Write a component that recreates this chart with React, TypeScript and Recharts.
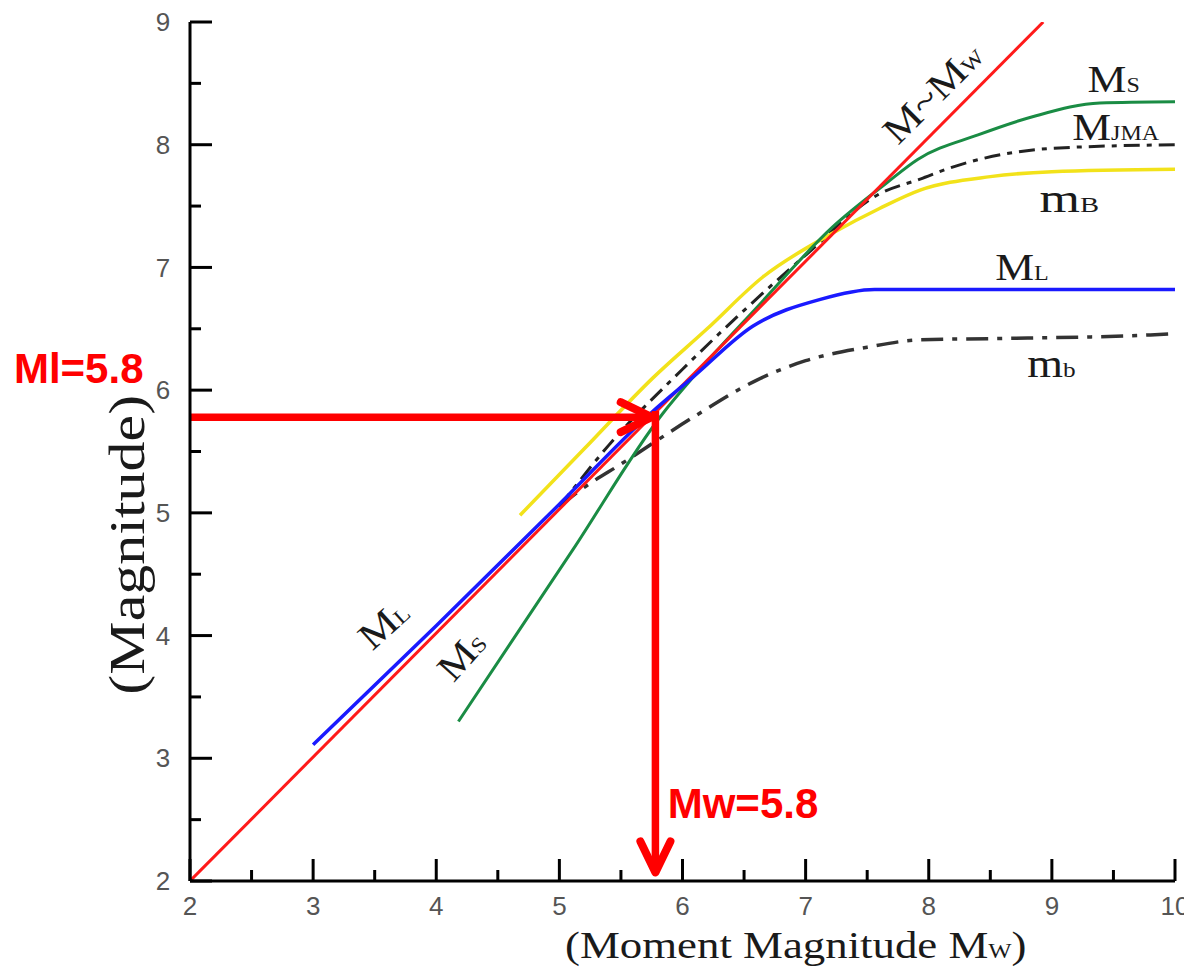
import React from 'react';
import { LineChart, Line, XAxis, YAxis, ReferenceLine, ReferenceDot } from 'recharts';

const CHART_W = 1184;
const CHART_H = 968;

// ---- ticks ----
const xTicks = [2, 2.5, 3, 3.5, 4, 4.5, 5, 5.5, 6, 6.5, 7, 7.5, 8, 8.5, 9, 9.5, 10];
const yTicks = [2, 2.5, 3, 3.5, 4, 4.5, 5, 5.5, 6, 6.5, 7, 7.5, 8, 8.5, 9];

// ---- series (x = moment magnitude Mw, y = magnitude) ----
const mwX = [2, 8.93];
const mwY = [2, 9];

const mlX = [3.0, 4.0, 5.0, 5.74, 6.09, 6.57, 7.12, 7.56, 10];
const mlY = [3.11, 4.08, 5.07, 5.81, 6.11, 6.52, 6.74, 6.82, 6.82];

const msX = [4.18, 5.11, 5.84, 6.09, 6.6, 7.22, 7.66, 7.91, 8.4, 8.85, 9.39, 10];
const msY = [3.3, 4.7, 5.81, 6.11, 6.67, 7.33, 7.69, 7.88, 8.08, 8.23, 8.34, 8.35];

const mBX = [4.68, 5.2, 5.76, 6.2, 6.65, 7.22, 7.6, 7.93, 8.5, 9.0, 10];
const mBY = [4.98, 5.52, 6.1, 6.5, 6.92, 7.28, 7.48, 7.63, 7.74, 7.78, 7.8];

const mjmaX = [5.0, 5.4, 6.0, 6.5, 7.0, 7.6, 7.93, 8.2, 9.0, 10];
const mjmaY = [5.05, 5.55, 6.17, 6.65, 7.1, 7.6, 7.72, 7.82, 7.97, 8.0];

const mbX = [5.0, 5.15, 5.52, 6.12, 6.6, 7.0, 7.5, 7.93, 8.5, 9.8, 10];
const mbY = [5.05, 5.17, 5.41, 5.8, 6.08, 6.24, 6.35, 6.41, 6.42, 6.45, 6.46];

// ---- arrow annotation values ----
const ML_VALUE = 5.78;
const MW_VALUE = 5.78;
const ML_TEXT = 'Ml=5.8';
const MW_TEXT = 'Mw=5.8';

const zip = (xs: number[], ys: number[]) => xs.map((x, i) => ({ x, y: ys[i] }));

const mwData = zip(mwX, mwY);
const mlData = zip(mlX, mlY);
const msData = zip(msX, msY);
const mBData = zip(mBX, mBY);
const mjmaData = zip(mjmaX, mjmaY);
const mbData = zip(mbX, mbY);

const SERIF = '"Liberation Serif", "Times New Roman", serif';
const SANS = '"Liberation Sans", Arial, sans-serif';
const TICK_FILL = '#555';
const TICK_FONT = 26;

const MAJOR = 22;
const MINOR = 11;
const isMajor = (v: number) => Math.abs(v - Math.round(v)) < 1e-6;

const BottomTick = (p: any) => {
  const { x, y, payload } = p;
  const v = payload.value;
  const m = isMajor(v);
  return (
    <g>
      <line x1={x} x2={x} y1={y} y2={y - (m ? MAJOR : MINOR)} stroke="#000" strokeWidth={3} />
      {m && (
        <text x={x} y={y + 25} dy="0.35em" textAnchor="middle" fontSize={TICK_FONT} fill={TICK_FILL} fontFamily={SANS}>
          {v}
        </text>
      )}
    </g>
  );
};

const TopTick = (p: any) => {
  const { x, y, payload } = p;
  const m = isMajor(payload.value);
  return <line x1={x} x2={x} y1={y} y2={y + (m ? MAJOR + 6 : MINOR + 4)} stroke="#000" strokeWidth={3} />;
};

const LeftTick = (p: any) => {
  const { x, y, payload } = p;
  const v = payload.value;
  const m = isMajor(v);
  return (
    <g>
      <line x1={x} x2={x + (m ? MAJOR : MINOR)} y1={y} y2={y} stroke="#000" strokeWidth={3} />
      {m && (
        <text x={x - 27} y={y} dy="0.35em" textAnchor="middle" fontSize={TICK_FONT} fill={TICK_FILL} fontFamily={SANS}>
          {v}
        </text>
      )}
    </g>
  );
};

const RightTick = (p: any) => {
  const { x, y, payload } = p;
  const m = isMajor(payload.value);
  return <line x1={x} x2={x - (m ? MAJOR : MINOR)} y1={y} y2={y} stroke="#000" strokeWidth={3} />;
};

type Seg = { t: string; sub?: boolean };

const serifLabel = (segs: Seg[], size: number, angle = 0, sx = 1.15, anchor: 'start' | 'middle' | 'end' = 'start') =>
  (p: any) => {
    const { cx, cy } = p;
    return (
      <g transform={`translate(${cx},${cy}) rotate(${angle}) scale(${sx},1)`}>
        <text x={0} y={0} textAnchor={anchor} fontFamily={SERIF} fontSize={size} fill="#1a1a1a">
          {segs.map((s, i) => (
            <tspan key={i} fontSize={s.sub ? size * 0.55 : size}>
              {s.t}
            </tspan>
          ))}
        </text>
      </g>
    );
  };

const boldRed = (txt: string) => (p: any) => {
  const { cx, cy } = p;
  return (
    <text x={cx} y={cy} fontFamily={SANS} fontWeight="bold" fontSize={42} fill="#ff0000">
      {txt}
    </text>
  );
};

const arrowShape = (p: any) => {
  const { x1, y1, x2, y2 } = p;
  const a = Math.atan2(y2 - y1, x2 - x1);
  const L = 31;
  const Wd = 15;
  const bx = x2 - L * Math.cos(a);
  const by = y2 - L * Math.sin(a);
  const px = -Math.sin(a) * Wd;
  const py = Math.cos(a) * Wd;
  return (
    <g>
      <line x1={x1} y1={y1} x2={x2} y2={y2} stroke="#ff0000" strokeWidth={7.5} />
      <polyline
        points={`${bx + px},${by + py} ${x2},${y2} ${bx - px},${by - py}`}
        fill="none"
        stroke="#ff0000"
        strokeWidth={8}
        strokeLinecap="round"
        strokeLinejoin="round"
      />
    </g>
  );
};

const labels: { x: number; y: number; shape: (p: any) => React.ReactElement }[] = [
  { x: 9.29, y: 8.43, shape: serifLabel([{ t: 'M' }, { t: 'S', sub: true }], 38) },
  { x: 9.165, y: 8.04, shape: serifLabel([{ t: 'M' }, { t: 'JMA', sub: true }], 38) },
  { x: 8.9, y: 7.45, shape: serifLabel([{ t: 'm' }, { t: 'B', sub: true }], 40, 0, 1.3) },
  { x: 8.54, y: 6.9, shape: serifLabel([{ t: 'M' }, { t: 'L', sub: true }], 38) },
  { x: 8.8, y: 6.11, shape: serifLabel([{ t: 'm' }, { t: 'b', sub: true }], 40, 0, 1.15) },
  { x: 7.75, y: 7.99, shape: serifLabel([{ t: 'M~M' }, { t: 'W', sub: true }], 38, -45) },
  { x: 3.48, y: 3.87, shape: serifLabel([{ t: 'M' }, { t: 'L', sub: true }], 38, -42) },
  { x: 4.14, y: 3.61, shape: serifLabel([{ t: 'M' }, { t: 'S', sub: true }], 38, -48) },
  { x: 6.92, y: 1.372, shape: serifLabel([{ t: '(Moment Magnitude M' }, { t: 'W', sub: true }, { t: ')' }], 38, 0, 1.18, 'middle') },
  { x: 1.626, y: 4.74, shape: serifLabel([{ t: '(Magnitude)' }], 50, -90, 1.2, 'middle') },
  { x: 0.57, y: 6.06, shape: boldRed(ML_TEXT) },
  { x: 5.88, y: 2.51, shape: boldRed(MW_TEXT) },
];

export default function App() {
  return (
    <div style={{ position: 'absolute', left: 0, top: 0, width: CHART_W, height: CHART_H, background: '#fff' }}>
      <LineChart width={CHART_W} height={CHART_H} margin={{ top: 22, right: 9, bottom: 0, left: 0 }}>
        <XAxis
          xAxisId="b"
          dataKey="x"
          type="number"
          domain={[2, 10]}
          ticks={xTicks}
          interval={0}
          allowDataOverflow
          height={87}
          tickSize={0}
          tickMargin={0}
          tickLine={false}
          axisLine={{ stroke: '#000', strokeWidth: 3 }}
          tick={<BottomTick />}
        />
        <XAxis
          xAxisId="t"
          orientation="top"
          dataKey="x"
          type="number"
          domain={[2, 10]}
          ticks={xTicks}
          interval={0}
          allowDataOverflow
          height={0}
          tickSize={0}
          tickMargin={0}
          tickLine={false}
          axisLine={{ stroke: '#000', strokeWidth: 3 }}
          tick={<TopTick />}
        />
        <YAxis
          yAxisId="l"
          type="number"
          domain={[2, 9]}
          ticks={yTicks}
          interval={0}
          allowDataOverflow
          width={190}
          tickSize={0}
          tickMargin={0}
          tickLine={false}
          axisLine={{ stroke: '#000', strokeWidth: 3 }}
          tick={<LeftTick />}
        />
        <YAxis
          yAxisId="r"
          orientation="right"
          type="number"
          domain={[2, 9]}
          ticks={yTicks}
          interval={0}
          allowDataOverflow
          width={0}
          tickSize={0}
          tickMargin={0}
          tickLine={false}
          axisLine={{ stroke: '#000', strokeWidth: 3 }}
          tick={<RightTick />}
        />

        <Line xAxisId="b" yAxisId="l" data={mbData} dataKey="y" type="monotone" stroke="#333" strokeWidth={3.5} strokeDasharray="22 9 5 9" dot={false} isAnimationActive={false} />
        <Line xAxisId="b" yAxisId="l" data={mjmaData} dataKey="y" type="monotone" stroke="#222" strokeWidth={3} strokeDasharray="16 7 5 7" dot={false} isAnimationActive={false} />
        <Line xAxisId="b" yAxisId="l" data={mBData} dataKey="y" type="monotone" stroke="#f2e21a" strokeWidth={3.5} dot={false} isAnimationActive={false} />
        <Line xAxisId="b" yAxisId="l" data={msData} dataKey="y" type="monotone" stroke="#1a8c44" strokeWidth={3} dot={false} isAnimationActive={false} />
        <Line xAxisId="b" yAxisId="l" data={mwData} dataKey="y" type="linear" stroke="#ff1a1a" strokeWidth={3} dot={false} isAnimationActive={false} />
        <Line xAxisId="b" yAxisId="l" data={mlData} dataKey="y" type="monotone" stroke="#1a1aff" strokeWidth={3.5} dot={false} isAnimationActive={false} />

        <ReferenceLine
          xAxisId="b"
          yAxisId="l"
          ifOverflow="visible"
          segment={[{ x: 2, y: ML_VALUE }, { x: MW_VALUE - 0.03, y: ML_VALUE }]}
          shape={arrowShape}
        />
        <ReferenceLine
          xAxisId="b"
          yAxisId="l"
          ifOverflow="visible"
          segment={[{ x: MW_VALUE, y: ML_VALUE + 0.05 }, { x: MW_VALUE, y: 2.07 }]}
          shape={arrowShape}
        />

        {labels.map((l, i) => (
          <ReferenceDot key={i} xAxisId="b" yAxisId="l" x={l.x} y={l.y} r={1} ifOverflow="visible" shape={l.shape} />
        ))}
      </LineChart>
    </div>
  );
}
